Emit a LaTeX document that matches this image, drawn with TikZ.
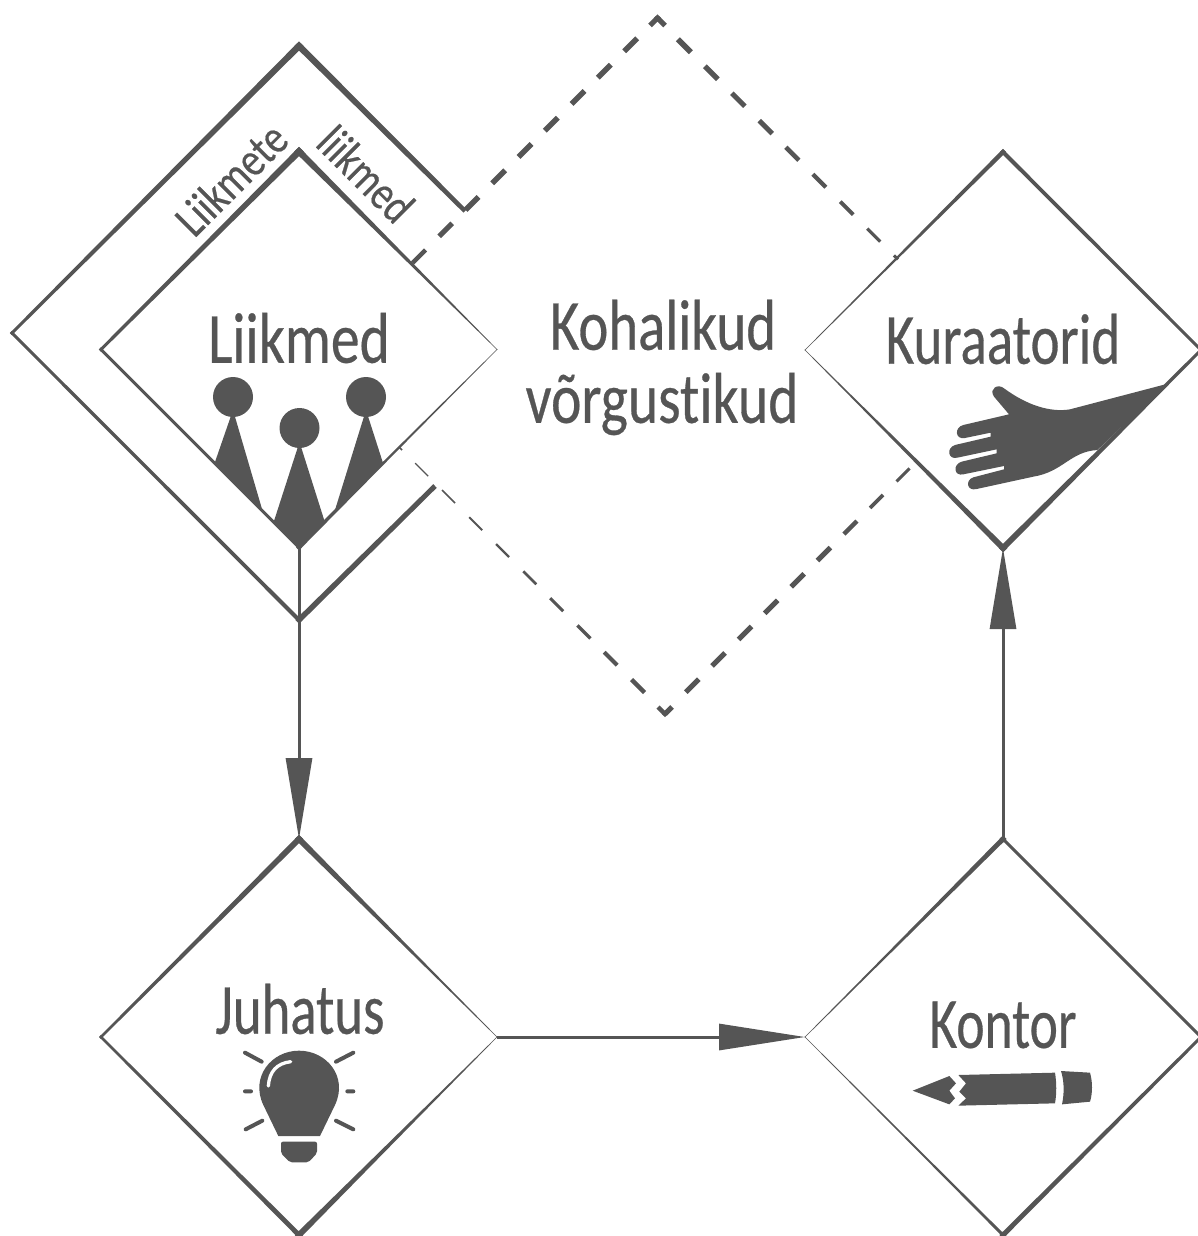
\documentclass[tikz,border=0pt]{standalone}
\usepackage{fontspec}
\usetikzlibrary{calc,shapes.geometric,arrows.meta}
\newfontfamily\lab[FakeStretch=0.8,FakeBold=0.4,Ligatures=NoCommon]{Carlito}
\definecolor{ink}{HTML}{555555}
\newcommand{\taper}[4]{\fill[ink] ($(#1)!#3/2*1pt!90:(#2)$) -- ($(#2)!#4/2*1pt!-90:(#1)$) -- ($(#2)!#4/2*1pt!90:(#1)$) -- ($(#1)!#3/2*1pt!-90:(#2)$) -- cycle;}
\newcommand{\mitre}[2]{\fill[ink] ($(#1)+(0,-#2*0.7071)$) -- ($(#1)+(#2*0.7071,0)$) -- ($(#1)+(0,#2*0.7071)$) -- ($(#1)+(-#2*0.7071,0)$) -- cycle;}
\newcommand{\edge}[4]{\taper{#1}{#2}{#3}{#4}\mitre{#1}{#3}\mitre{#2}{#4}}
\tikzset{
  dia/.style={diamond,aspect=1,inner sep=0pt,outer sep=0pt,minimum width=#1,minimum height=#1},
  lbl/.style={text=ink,inner sep=0pt,font=\lab\fontsize{72}{76}\selectfont},
  smalllbl/.style={text=ink,inner sep=0pt,font=\lab\fontsize{48}{50}\selectfont},
  conn/.style={draw=ink,line width=3pt,-{Triangle[length=#1,width=26pt,color=ink]}},
}
\begin{document}
\begin{tikzpicture}[x=1pt,y=-1pt]
\useasboundingbox (0,0) rectangle (1198,1236);
% nodes
\node[dia=396pt] (li) at (299,349.5) {};
\node[dia=574pt] (ou) at (299,333) {};
\node[dia=396pt] (ku) at (1003,350) {};
\node[dia=396pt] (ju) at (299,1037) {};
\node[dia=396pt] (ko) at (1003,1037) {};
\coordinate (ouA) at (465,211);
\coordinate (ouB) at (435,486);
% outer
\edge{ou.north}{ou.west}{6.5}{3}
\edge{ou.south}{ou.west}{4}{3}
\taper{ou.north}{ouA}{6.5}{4.5}\mitre{ou.south}{5}
\taper{ou.south}{ouB}{5.5}{5}
% liikmed
\edge{li.north}{li.west}{6.5}{3}
\edge{li.south}{li.west}{3}{3}
\edge{li.north}{li.east}{6.5}{0.5}
\edge{li.south}{li.east}{4}{0.5}
% kuraatorid
\edge{ku.north}{ku.west}{4.5}{0.5}
\edge{ku.north}{ku.east}{4}{3}
\edge{ku.south}{ku.west}{6}{0.5}
\edge{ku.south}{ku.east}{6}{3}
% juhatus
\edge{ju.north}{ju.west}{6}{2.5}
\edge{ju.north}{ju.east}{6}{0.5}
\edge{ju.south}{ju.west}{5}{2.5}
\edge{ju.south}{ju.east}{6}{0.5}
% kontor
\edge{ko.north}{ko.west}{5}{0.5}
\edge{ko.north}{ko.east}{3}{3}
\edge{ko.south}{ko.west}{3}{0.5}
\edge{ko.south}{ko.east}{5}{3}
% arrows
\draw[conn=81pt] (ou.south) -- (ju.north);
\draw[ink,line width=3pt] (li.south) -- (ou.south);
\draw[conn=81pt] (ko.north) -- (ku.south);
\draw[conn=86pt] (ju.east) -- (ko.west);
% dashes upper left
\foreach \c/\w in {630.7/5.5,604.3/5.5,578/5.5,551.3/5.5,525/5.5,498.7/5.5,472/5.5,445.7/5,419/4.5}{
  \pgfmathsetmacro\xa{\c+6.5}\pgfmathsetmacro\ya{675.5-\c-6.5}
  \pgfmathsetmacro\xb{\c-6.5}\pgfmathsetmacro\yb{675.5-\c+6.5}
  \taper{\xa,\ya}{\xb,\yb}{\w}{\w}}
% dashes upper right
\foreach \c/\w in {684.3/5.5,711.3/5.2,738.3/5,765.7/4.8,792.3/4.5,819.3/4.2,846.7/3.8,873.7/3.2}{
  \pgfmathsetmacro\xa{\c-6.5}\pgfmathsetmacro\ya{\c-638.6-6.5}
  \pgfmathsetmacro\xb{\c+6.5}\pgfmathsetmacro\yb{\c-638.6+6.5}
  \taper{\xa,\ya}{\xb,\yb}{\w}{\w}}
\taper{894,255.4}{898,259.4}{3}{3}
% dashes lower left
\foreach \c/\w in {638/4.5,610.7/4,583.9/3.5,556.7/3,529.8/2.6,502.6/2.2,475.7/1.8,448.5/1.5,421.7/1.3}{
  \pgfmathsetmacro\xa{\c+6.5}\pgfmathsetmacro\ya{\c+48+6.5}
  \pgfmathsetmacro\xb{\c-6.5}\pgfmathsetmacro\yb{\c+48-6.5}
  \taper{\xa,\ya}{\xb,\yb}{\w}{\w}}
\taper{399,447}{402,450}{1.5}{1.5}
% dashes lower right
\foreach \c/\w in {692.3/5,718.5/5,745/5,771.2/5,797.7/5,823.9/5,850.4/4.5,876.6/3.8,903/3}{
  \pgfmathsetmacro\xa{\c-6.5}\pgfmathsetmacro\ya{1378-\c+6.5}
  \pgfmathsetmacro\xb{\c+6.5}\pgfmathsetmacro\yb{1378-\c-6.5}
  \taper{\xa,\ya}{\xb,\yb}{\w}{\w}}
% chevrons
\coordinate (ta) at (657.5,18);
\coordinate (tl) at (650,25.5);
\coordinate (tr) at (665,25.5);
\taper{ta}{tl}{5}{5}\taper{ta}{tr}{5}{5}\mitre{ta}{5}
\coordinate (ba) at (665,714);
\coordinate (bl) at (658,707);
\coordinate (br) at (672,707);
\taper{ba}{bl}{4.5}{4.5}\taper{ba}{br}{5}{5}\mitre{ba}{4.5}
% texts
\node[lbl] at (299,338) {Liikmed};
\node[lbl] at (663,325) {\scalebox{.985}[1]{Kohalikud}};
\node[lbl] at (662,404) {võrgustikud};
\node[lbl] at (1003,339) {\scalebox{.955}[1]{Kuraatorid}};
\node[lbl] at (300,1009) {\scalebox{.95}[1]{Juhatus}};
\node[lbl] at (1003,1025) {\scalebox{.93}[1]{Kontor}};
\node[smalllbl,rotate=45] at (231,179) {\scalebox{1.03}[1]{Liikmete}};
\node[smalllbl,rotate=-45] at (366,174) {liikmed};
% people
\fill[ink] (233,397) circle (20) (299.5,428) circle (20) (366,397) circle (20);
\fill[ink] (233,410) -- (215,462) -- (262,509) -- cycle;
\fill[ink] (299.5,442) -- (274,521) -- (299.5,548) -- (324.5,521) -- cycle;
\fill[ink] (366,410) -- (335,510) -- (383,463) -- cycle;
% hand
\begin{scope}[shift={(800,280)},scale=1/3]
\fill[ink] (1100,312) -- (810,388) .. controls (750,398) and (680,375) .. (612,325)
  .. controls (595,310) and (565,325) .. (582,350) -- (627,403) -- (490,435)
  .. controls (462,442) and (465,480) .. (495,474) -- (572,458) -- (572,470) -- (465,495)
  .. controls (437,505) and (445,540) .. (472,533) -- (590,508) -- (590,520) -- (485,545)
  .. controls (457,553) and (462,590) .. (490,583) -- (612,558) -- (612,568) -- (520,592)
  .. controls (495,600) and (500,635) .. (530,627) -- (700,590)
  .. controls (790,575) and (810,515) .. (892,510) -- cycle;
\end{scope}
% bulb
\begin{scope}[shift={(200,1030)},scale=1/3]
\fill[ink] (235,318) -- (190,225) .. controls (150,140) and (215,62) .. (297,62)
  .. controls (380,62) and (445,140) .. (405,225) -- (360,318) -- cycle;
\draw[white,line width=3.3pt,line cap=round] (205,168) .. controls (208,125) and (230,100) .. (272,95);
\fill[ink,rounded corners=2pt] (243,335) -- (351,335) -- (351,370) -- (325,397) -- (270,397) -- (243,370) -- cycle;
\draw[ink,line width=4pt,line cap=round] (135,68) -- (185,95) (460,68) -- (408,95) (135,184) -- (153,184) (442,184) -- (460,184) (137,298) -- (187,272) (408,272) -- (460,298);
\end{scope}
% pencil
\begin{scope}[shift={(890,1050)},scale=1/3]
\fill[ink] (68,122) -- (178,78) -- (198,100) -- (178,122) -- (195,145) -- (178,163) -- cycle;
\fill[ink] (205,75) -- (495,68) .. controls (500,100) and (500,130) .. (495,160) -- (205,167) -- (228,145) -- (208,125) -- (228,100) -- cycle;
\fill[ink] (513,63) -- (600,68) .. controls (608,95) and (608,130) .. (600,155) -- (516,163) .. controls (523,130) and (523,95) .. (513,63) -- cycle;
\end{scope}
\end{tikzpicture}
\end{document}
